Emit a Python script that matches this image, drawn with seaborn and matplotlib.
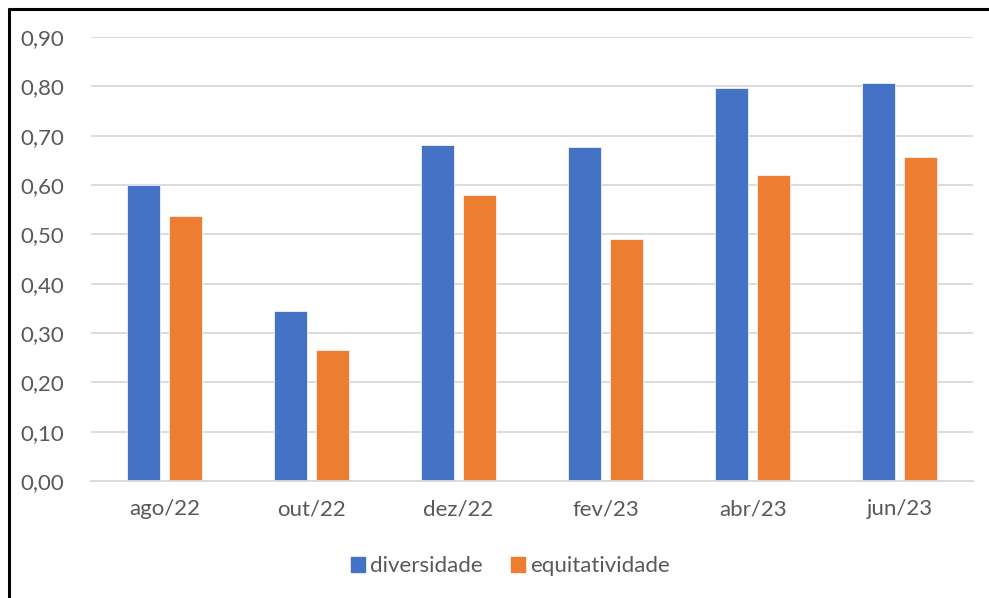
import matplotlib
matplotlib.use("Agg")
import matplotlib.pyplot as plt
from matplotlib.lines import Line2D
from matplotlib.ticker import FuncFormatter, FixedLocator
import seaborn as sns
import pandas as pd
import numpy as np

# ------------------------------------------------------------------ #
# Data
# ------------------------------------------------------------------ #
months        = ["ago/22", "out/22", "dez/22", "fev/23", "abr/23", "jun/23"]
diversidade   = [0.601, 0.344, 0.681, 0.677, 0.796, 0.807]
equitatividade = [0.538, 0.265, 0.579, 0.490, 0.621, 0.656]
series_names  = ["diversidade", "equitatividade"]
y_ticks       = [0.0, 0.1, 0.2, 0.3, 0.4, 0.5, 0.6, 0.7, 0.8, 0.9]

df = pd.DataFrame({
    "mes":   months * 2,
    "serie": [series_names[0]] * len(months) + [series_names[1]] * len(months),
    "valor": diversidade + equitatividade,
})

palette = {"diversidade": "#4472C4", "equitatividade": "#ED7D31"}
text_col = "#595959"
grid_col = "#D9D9D9"
fs = 16

sns.set_theme(style="white")
plt.rcParams["font.family"] = ["Lato", "DejaVu Sans"]

fig = plt.figure(figsize=(9.89, 5.98), dpi=100)
ax = fig.add_axes([0.092, 0.1957, 0.892, 0.7424])

sns.barplot(
    data=df, x="mes", y="valor", hue="serie", order=months,
    hue_order=series_names, palette=palette, width=0.571, gap=0.214,
    edgecolor="white", linewidth=0.5, saturation=1, ax=ax, legend=False,
)

ax.set_ylim(0, 0.9)
ax.set_xlim(-0.5, len(months) - 0.5)
ax.yaxis.set_major_locator(FixedLocator(y_ticks))
ax.yaxis.set_major_formatter(FuncFormatter(lambda v, _: f"{v:.2f}".replace(".", ",")))
ax.grid(axis="y", color=grid_col, lw=1.3)
ax.set_axisbelow(True)

for s in ["top", "right", "left"]:
    ax.spines[s].set_visible(False)
ax.spines["bottom"].set_color(grid_col)
ax.spines["bottom"].set_linewidth(1.3)

ax.set_xlabel("")
ax.set_ylabel("")
ax.tick_params(axis="y", length=0, pad=19, labelsize=fs, labelcolor=text_col)
ax.tick_params(axis="x", which="major", length=0, pad=13, labelsize=fs, labelcolor=text_col)
ax.set_xticks(np.arange(-0.5, len(months)), minor=True)
ax.tick_params(axis="x", which="minor", length=8, width=1.3, color=grid_col, direction="out")

# legend
handles = [plt.Rectangle((0, 0), 1, 1, color=palette[n]) for n in series_names]
fig.legend(
    handles, series_names, loc="center", bbox_to_anchor=(0.516, 0.053),
    ncol=2, frameon=False, fontsize=fs, labelcolor=text_col,
    handlelength=0.63, handleheight=0.63, handletextpad=0.25, columnspacing=1.25,
)

# outer frame (cropped chart border)
fig.add_artist(Line2D([9 / 989, 9 / 989], [0, 1 - 8.5 / 598], color="black", lw=2.2))
fig.add_artist(Line2D([9 / 989, 1], [1 - 8.5 / 598, 1 - 8.5 / 598], color="black", lw=2.2))

fig.savefig("out.png", dpi=100)
plt.close(fig)
